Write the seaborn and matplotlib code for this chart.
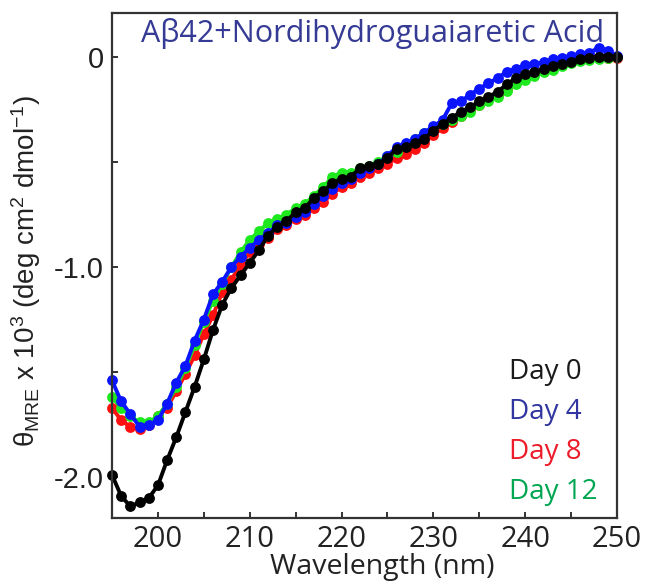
import numpy as np
import pandas as pd
import matplotlib
matplotlib.use("Agg")
import matplotlib.pyplot as plt
import seaborn as sns

# ---------------- data ----------------
wavelength = list(range(195, 251))

day0 = [-1.99, -2.09, -2.14, -2.12, -2.10, -2.04, -1.92, -1.81, -1.69, -1.57,
        -1.44, -1.30, -1.18, -1.10, -1.04, -0.98, -0.92, -0.85, -0.81, -0.78,
        -0.74, -0.72, -0.67, -0.64, -0.60, -0.58, -0.57, -0.53, -0.52, -0.51,
        -0.48, -0.44, -0.43, -0.41, -0.39, -0.35, -0.32, -0.29, -0.26, -0.24,
        -0.21, -0.19, -0.165, -0.13, -0.10, -0.08, -0.07, -0.055, -0.045, -0.035,
        -0.025, -0.01, -0.005, 0.0, 0.0, 0.0]

day4 = [-1.54, -1.64, -1.70, -1.76, -1.75, -1.73, -1.65, -1.55, -1.47, -1.35,
        -1.25, -1.13, -1.07, -1.00, -0.95, -0.91, -0.87, -0.84, -0.80, -0.79,
        -0.76, -0.74, -0.70, -0.66, -0.63, -0.60, -0.58, -0.55, -0.53, -0.51,
        -0.47, -0.43, -0.41, -0.39, -0.36, -0.33, -0.30, -0.22, -0.21, -0.18,
        -0.15, -0.125, -0.10, -0.07, -0.055, -0.04, -0.035, -0.025, -0.01, -0.005,
        0.005, 0.015, 0.02, 0.045, 0.03, 0.005]

day8 = [-1.67, -1.73, -1.76, -1.77, -1.75, -1.71, -1.67, -1.59, -1.51, -1.42,
        -1.32, -1.23, -1.12, -1.06, -0.99, -0.93, -0.89, -0.86, -0.82, -0.80,
        -0.77, -0.75, -0.72, -0.69, -0.65, -0.62, -0.60, -0.57, -0.55, -0.53,
        -0.51, -0.48, -0.46, -0.44, -0.41, -0.37, -0.34, -0.31, -0.28, -0.25,
        -0.23, -0.20, -0.18, -0.15, -0.12, -0.10, -0.08, -0.06, -0.04, -0.03,
        -0.01, 0.005, 0.0, 0.0, -0.005, -0.005]

day12 = [-1.62, -1.67, -1.71, -1.74, -1.74, -1.71, -1.65, -1.57, -1.48, -1.37,
         -1.26, -1.16, -1.08, -1.00, -0.93, -0.87, -0.83, -0.79, -0.77, -0.75,
         -0.72, -0.70, -0.66, -0.62, -0.57, -0.55, -0.55, -0.53, -0.52, -0.50,
         -0.47, -0.45, -0.42, -0.39, -0.36, -0.34, -0.32, -0.30, -0.28, -0.26,
         -0.23, -0.21, -0.19, -0.16, -0.13, -0.11, -0.09, -0.07, -0.06, -0.045,
         -0.03, -0.02, -0.015, -0.01, -0.005, 0.0]

series_names = ["Day 0", "Day 4", "Day 8", "Day 12"]
x_ticks = [200, 210, 220, 230, 240, 250]
y_ticks = [0, -1.0, -2.0]
y_tick_labels = ["0", "-1.0", "-2.0"]
title_text = "A\u03b242+Nordihydroguaiaretic Acid"

# ---------------- styling ----------------
sns.set_style("white")
plt.rcParams["font.family"] = ["Open Sans", "DejaVu Sans"]
plt.rcParams["mathtext.fontset"] = "custom"
plt.rcParams["mathtext.rm"] = "Liberation Sans"
plt.rcParams["mathtext.it"] = "Liberation Sans:italic"
plt.rcParams["mathtext.bf"] = "Liberation Sans:bold"

marker_colors = {"Day 0": "#000000", "Day 4": "#0a14ff", "Day 8": "#ff1010", "Day 12": "#1ee81e"}
text_colors = {"Day 0": "#1a1a1a", "Day 4": "#3035a0", "Day 8": "#ec1c2a", "Day 12": "#00a651"}

frames = []
for name, vals in zip(series_names, [day0, day4, day8, day12]):
    frames.append(pd.DataFrame({"wl": wavelength, "theta": vals, "day": name}))
df = pd.concat(frames, ignore_index=True)

fig = plt.figure(figsize=(6.45, 5.85), dpi=100)
ax = fig.add_axes([112 / 645, 1 - 518 / 585, 505 / 645, 505 / 585])

draw_order = ["Day 8", "Day 12", "Day 4", "Day 0"]
for name in draw_order:
    sub = df[df["day"] == name]
    sns.lineplot(data=sub, x="wl", y="theta", color=marker_colors[name], ax=ax,
                 marker="o", markersize=7.8, markeredgewidth=0, linewidth=2.8,
                 legend=False, clip_on=False, zorder=3)

ax.set_xlim(195, 250)
ax.set_ylim(-2.195, 0.2095)

spine_c = "#333333"
for s in ax.spines.values():
    s.set_color(spine_c)
    s.set_linewidth(1.6)
    s.set_zorder(5)

ax.set_xticks(x_ticks)
ax.set_xticks([205, 215, 225, 235, 245], minor=True)
ax.set_yticks(y_ticks)
ax.set_yticklabels(y_tick_labels)
ax.set_yticks([-0.5, -1.5], minor=True)
ax.tick_params(axis="both", which="both", direction="in", length=4, width=1.4,
               color=spine_c, bottom=True, left=True, top=False, right=False)
ax.tick_params(axis="x", which="major", labelsize=21, pad=5, labelcolor="#222222")
ax.tick_params(axis="y", which="major", labelsize=21, pad=6, labelcolor="#222222")
for lab in ax.get_yticklabels():
    lab.set_fontfamily("Liberation Sans")

ax.set_xlabel("Wavelength (nm)", fontsize=20.5, color="#222222")
ax.xaxis.set_label_coords(0.535, -0.070)
ax.set_ylabel("\u03b8$_{\\mathrm{MRE}}$ x 10$^{3}$ (deg cm$^{2}$ dmol$^{-1}$)",
              fontsize=20, color="#222222", fontfamily="Liberation Sans")
ax.yaxis.set_label_coords(-0.137, 0.489)

ax.text(0.515, 0.960, title_text, transform=ax.transAxes, ha="center", va="center",
        fontsize=22, color="#353a94")

legend_y = [0.289, 0.210, 0.131, 0.051]
for name, yy in zip(series_names, legend_y):
    ax.text(0.786, yy, name, transform=ax.transAxes, ha="left", va="center",
            fontsize=20, color=text_colors[name])

fig.savefig("out.png", dpi=100)
